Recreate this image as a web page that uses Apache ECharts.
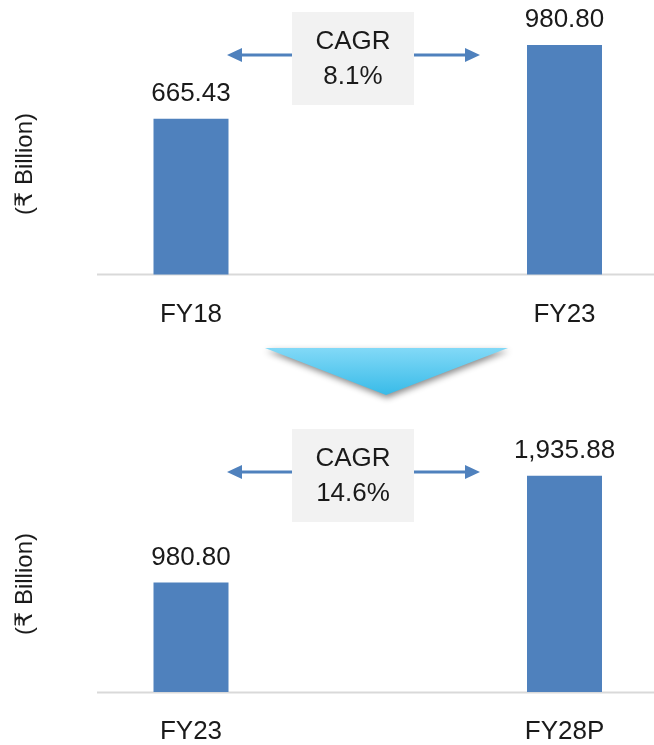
<!DOCTYPE html>
<html>
<head>
<meta charset="utf-8">
<script src="https://cdn.jsdelivr.net/npm/echarts@6/dist/echarts.min.js"></script>
<style>
html,body{margin:0;padding:0;background:#fff;}
#chart{width:654px;height:745px;}
</style>
</head>
<body>
<div id="chart"></div>
<script>
const categoriesTop = ['FY18', 'FY23'];
const valuesTop = [665.43, 980.80];
const cagrTop = ['CAGR', '8.1%'];
const categoriesBottom = ['FY23', 'FY28P'];
const valuesBottom = [980.80, 1935.88];
const cagrBottom = ['CAGR', '14.6%'];
const unitLabel = '(₹ Billion)';

const FONT = "'Liberation Sans', 'DejaVu Sans', sans-serif";
const TXT = '#1a1a1a';
const BAR = '#4f81bd';
const AXIS = '#d9d9d9';

const chart = echarts.init(document.getElementById('chart'), null, {renderer: 'canvas'});

function fmt(v) {
  return v.toLocaleString('en-US', {minimumFractionDigits: 2, maximumFractionDigits: 2});
}

function xAxisFor(idx, cats) {
  return {
    type: 'category', gridIndex: idx, data: cats, boundaryGap: false,
    axisLine: {show: false}, axisTick: {show: false},
    axisLabel: {margin: 27, fontSize: 26, color: TXT, fontFamily: FONT}
  };
}
function yAxisFor(idx, max) {
  return {
    type: 'value', gridIndex: idx, min: 0, max: max,
    axisLine: {show: false}, axisTick: {show: false},
    axisLabel: {show: false}, splitLine: {show: false}
  };
}
function seriesFor(idx, vals) {
  return {
    type: 'bar', xAxisIndex: idx, yAxisIndex: idx, data: vals,
    barWidth: 75,
    itemStyle: {color: BAR},
    label: {show: true, position: 'top', distance: 12, fontSize: 26, color: TXT,
      fontFamily: FONT, formatter: p => fmt(p.value)},
    silent: true
  };
}

function cagrGraphics(boxTop, boxH, arrowY, lines) {
  const cx = 353;
  const els = [];
  els.push({type: 'rect', shape: {x: 292, y: boxTop, width: 122, height: boxH},
    style: {fill: '#f2f2f2'}});
  els.push({type: 'text', x: cx, y: boxTop + 30, style: {text: lines[0], fontSize: 26,
    fontFamily: FONT, fill: TXT, textAlign: 'center', textVerticalAlign: 'middle'}});
  els.push({type: 'text', x: cx, y: boxTop + 65, style: {text: lines[1], fontSize: 26,
    fontFamily: FONT, fill: TXT, textAlign: 'center', textVerticalAlign: 'middle'}});
  els.push({type: 'line', shape: {x1: 292, y1: arrowY, x2: 238, y2: arrowY},
    style: {stroke: BAR, lineWidth: 3}});
  els.push({type: 'polygon', shape: {points: [[227, arrowY], [242, arrowY - 7], [242, arrowY + 7]]},
    style: {fill: BAR}});
  els.push({type: 'line', shape: {x1: 414, y1: arrowY, x2: 468, y2: arrowY},
    style: {stroke: BAR, lineWidth: 3}});
  els.push({type: 'polygon', shape: {points: [[480, arrowY], [465, arrowY - 7], [465, arrowY + 7]]},
    style: {fill: BAR}});
  return els;
}

const graphics = [
  {type: 'line', shape: {x1: 97, y1: 274.5, x2: 654, y2: 274.5}, style: {stroke: AXIS, lineWidth: 2}},
  {type: 'line', shape: {x1: 97, y1: 692.5, x2: 654, y2: 692.5}, style: {stroke: AXIS, lineWidth: 2}},
  {type: 'text', x: 25, y: 164, rotation: Math.PI / 2, style: {text: unitLabel, fontSize: 24,
    fontFamily: FONT, fill: TXT, textAlign: 'center', textVerticalAlign: 'middle'}},
  {type: 'text', x: 25, y: 584, rotation: Math.PI / 2, style: {text: unitLabel, fontSize: 24,
    fontFamily: FONT, fill: TXT, textAlign: 'center', textVerticalAlign: 'middle'}},
  {type: 'polygon', shape: {points: [[265, 348], [508, 348], [386, 395]]},
    style: {
      fill: new echarts.graphic.LinearGradient(0, 0, 0, 1, [
        {offset: 0, color: '#82d9f7'}, {offset: 1, color: '#38bbe8'}
      ]),
      shadowColor: 'rgba(0,0,0,0.45)', shadowBlur: 6, shadowOffsetX: 1, shadowOffsetY: 3
    }}
].concat(cagrGraphics(12, 93, 55, cagrTop), cagrGraphics(429, 93, 472, cagrBottom));

chart.setOption({
  animation: false,
  backgroundColor: '#ffffff',
  grid: [
    {left: 191, top: 40.5, width: 373.5, height: 234},
    {left: 191, top: 468.5, width: 373.5, height: 224}
  ],
  xAxis: [xAxisFor(0, categoriesTop), xAxisFor(1, categoriesBottom)],
  yAxis: [yAxisFor(0, 1000), yAxisFor(1, 2000)],
  series: [seriesFor(0, valuesTop), seriesFor(1, valuesBottom)],
  graphic: graphics
});
</script>
</body>
</html>
